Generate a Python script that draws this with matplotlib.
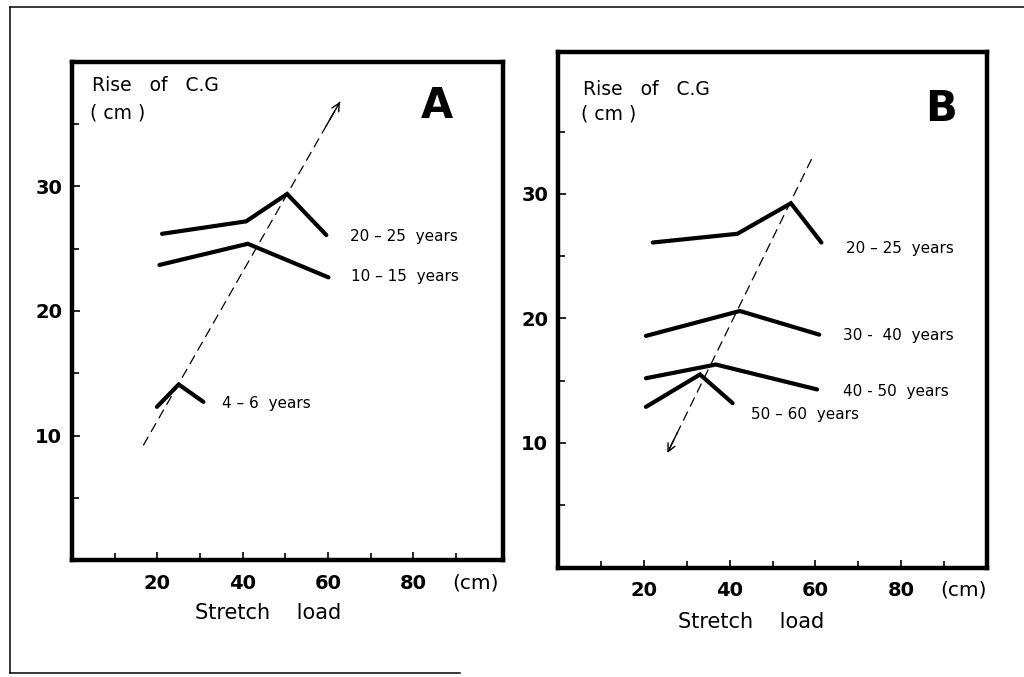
import matplotlib.pyplot as plt
from matplotlib.lines import Line2D
from matplotlib.ticker import FixedLocator

# Panel A: rise of the centre of gravity against stretch load, by age group
a_20_25_x = [21.1, 40.8, 50.4, 59.6]
a_20_25_y = [26.2, 27.2, 29.4, 26.1]
a_10_15_x = [20.5, 41.2, 60.1]
a_10_15_y = [23.7, 25.4, 22.7]
a_4_6_x = [19.9, 25.0, 30.8]
a_4_6_y = [12.3, 14.1, 12.7]
a_trend_x = [16.7, 62.8]
a_trend_y = [9.2, 36.8]

# Panel B: adult age groups
b_20_25_x = [22.1, 41.8, 54.3, 61.4]
b_20_25_y = [26.1, 26.8, 29.25, 26.1]
b_30_40_x = [20.5, 42.4, 60.9]
b_30_40_y = [18.6, 20.6, 18.7]
b_40_50_x = [20.5, 36.8, 60.4]
b_40_50_y = [15.2, 16.3, 14.3]
b_50_60_x = [20.5, 33.1, 40.7]
b_50_60_y = [12.9, 15.5, 13.2]
b_trend_x = [59.1, 25.5]
b_trend_y = [32.8, 9.2]

x_ticks = [20, 40, 60, 80]
x_minor = [10, 30, 50, 70, 90]
y_ticks = [10, 20, 30]
y_minor = [5, 15, 25, 35]

W, H = 1024, 677
fig = plt.figure(figsize=(W / 100, H / 100), dpi=100)


def box(left, top, right, bottom):
    return [left / W, 1 - bottom / H, (right - left) / W, (bottom - top) / H]


def style_axes(ax, xmax, ymax):
    ax.set_xlim(0, xmax)
    ax.set_ylim(0, ymax)
    ax.set_xticks(x_ticks)
    ax.set_yticks(y_ticks)
    ax.xaxis.set_minor_locator(FixedLocator(x_minor))
    ax.yaxis.set_minor_locator(FixedLocator(y_minor))
    for s in ax.spines.values():
        s.set_linewidth(3.2)
    ax.tick_params(which='both', direction='in', width=1.2, top=False, right=False)
    ax.tick_params(which='major', length=6, labelsize=14, pad=7)
    ax.tick_params(axis='x', which='major', pad=10)
    ax.tick_params(which='minor', length=5)
    for lbl in ax.get_xticklabels() + ax.get_yticklabels():
        lbl.set_fontweight('bold')
    ax.annotate('(cm)', xy=(94.5, 0), xycoords=('data', 'axes fraction'),
                xytext=(0, -20.5), textcoords='offset points',
                ha='center', va='baseline', fontsize=14.5)


def trend(ax, xs, ys):
    ax.plot(xs, ys, color='black', lw=0.9, linestyle=(0, (8, 4.5)))
    # solid head on the last stretch of the dashed line
    tail = (xs[0] + 0.93 * (xs[1] - xs[0]), ys[0] + 0.93 * (ys[1] - ys[0]))
    ax.annotate('', xy=(xs[1], ys[1]), xytext=tail,
                arrowprops=dict(arrowstyle='->', lw=1.0, color='black',
                                mutation_scale=14, shrinkA=0, shrinkB=0))


line_kw = dict(color='black', lw=3.0, solid_capstyle='round', solid_joinstyle='miter')
label_kw = dict(fontsize=11, ha='left', va='center')
head_kw = dict(fontsize=13.5, ha='left', va='center')

# ---- A ----
ax_a = fig.add_axes(box(72, 62, 503, 560))
style_axes(ax_a, 101, 40)
ax_a.plot(a_20_25_x, a_20_25_y, **line_kw)
ax_a.plot(a_10_15_x, a_10_15_y, **line_kw)
ax_a.plot(a_4_6_x, a_4_6_y, **line_kw)
trend(ax_a, a_trend_x, a_trend_y)
ax_a.text(65.2, 26.0, '20 – 25  years', **label_kw)
ax_a.text(65.4, 22.8, '10 – 15  years', **label_kw)
ax_a.text(35.1, 12.6, '4 – 6  years', **label_kw)
ax_a.text(0.046, 0.953, 'Rise   of   C.G', transform=ax_a.transAxes, **head_kw)
ax_a.text(0.042, 0.898, '( cm )', transform=ax_a.transAxes, **head_kw)
ax_a.text(0.846, 0.912, 'A', transform=ax_a.transAxes,
          fontsize=30, fontweight='bold', ha='center', va='center')
ax_a.set_xlabel('Stretch    load', fontsize=15, x=0.455, labelpad=7)

# ---- B ----
ax_b = fig.add_axes(box(558, 52, 987, 567.5))
style_axes(ax_b, 100, 41.4)
ax_b.plot(b_20_25_x, b_20_25_y, **line_kw)
ax_b.plot(b_30_40_x, b_30_40_y, **line_kw)
ax_b.plot(b_40_50_x, b_40_50_y, **line_kw)
ax_b.plot(b_50_60_x, b_50_60_y, **line_kw)
trend(ax_b, b_trend_x, b_trend_y)
ax_b.text(67.1, 25.6, '20 – 25  years', **label_kw)
ax_b.text(66.5, 18.6, '30 -  40  years', **label_kw)
ax_b.text(66.5, 14.1, '40 - 50  years', **label_kw)
ax_b.text(44.9, 12.25, '50 – 60  years', **label_kw)
ax_b.text(0.058, 0.927, 'Rise   of   C.G', transform=ax_b.transAxes, **head_kw)
ax_b.text(0.054, 0.88, '( cm )', transform=ax_b.transAxes, **head_kw)
ax_b.text(0.893, 0.889, 'B', transform=ax_b.transAxes,
          fontsize=30, fontweight='bold', ha='center', va='center')
ax_b.set_xlabel('Stretch    load', fontsize=15, x=0.45, labelpad=8)

# thin outer border (open on the right)
frame_kw = dict(color='black', lw=1.1, transform=fig.transFigure)
fig.add_artist(Line2D([10 / W, 1], [1 - 7 / H, 1 - 7 / H], **frame_kw))
fig.add_artist(Line2D([10 / W, 10 / W], [1 - 7 / H, 4 / H], **frame_kw))
fig.add_artist(Line2D([10 / W, 460 / W], [4 / H, 4 / H], **frame_kw))

fig.savefig('out.png', dpi=100)
